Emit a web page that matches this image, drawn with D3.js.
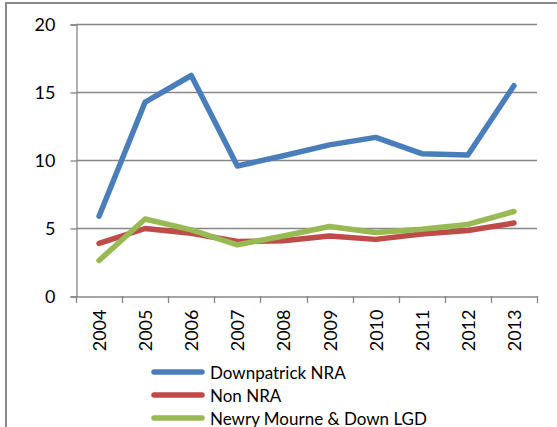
<!DOCTYPE html>
<html>
<head>
<meta charset="utf-8">
<script src="https://cdn.jsdelivr.net/npm/d3@7"></script>
<style>
  html, body { margin: 0; padding: 0; background: #fff; }
  svg { display: block; }
  text { font-family: Lato, "Open Sans", sans-serif; fill: #000; }
</style>
</head>
<body>
<svg id="chart" width="557" height="427"></svg>
<script>
const years = ["2004","2005","2006","2007","2008","2009","2010","2011","2012","2013"];
const downpatrickNRA = [5.9, 14.3, 16.25, 9.6, 10.35, 11.15, 11.7, 10.5, 10.4, 15.5];
const nonNRA = [3.9, 5.0, 4.65, 4.05, 4.1, 4.45, 4.2, 4.6, 4.85, 5.4];
const newryMourneDown = [2.65, 5.7, 4.9, 3.8, 4.45, 5.15, 4.7, 4.95, 5.3, 6.25];
const seriesNames = ["Downpatrick NRA", "Non NRA", "Newry Mourne & Down LGD"];
const yTicks = [0, 5, 10, 15, 20];

const series = [
  { name: seriesNames[0], values: downpatrickNRA, color: "#4A7EBB" },
  { name: seriesNames[1], values: nonNRA, color: "#BE4B48" },
  { name: seriesNames[2], values: newryMourneDown, color: "#98B954" }
];

const svg = d3.select("#chart");
const gridColor = "#878787";

// outer border (right/bottom extend beyond view)
svg.append("rect")
  .attr("x", 6).attr("y", 3)
  .attr("width", 552).attr("height", 440)
  .attr("fill", "none").attr("stroke", "#8a8a8a").attr("stroke-width", 2);

const plot = { left: 76, right: 537, top: 24, bottom: 296 };

const x = d3.scaleBand().domain(years).range([plot.left, plot.right]).padding(0);
const y = d3.scaleLinear().domain([0, 20]).range([plot.bottom, plot.top]);

// gridlines
svg.append("g").selectAll("line").data(yTicks.filter(d => d > 0)).join("line")
  .attr("x1", plot.left).attr("x2", plot.right)
  .attr("y1", d => y(d) + 0.5).attr("y2", d => y(d) + 0.5)
  .attr("stroke", gridColor).attr("stroke-width", 1.3);

// y axis
const yAxis = d3.axisLeft(y).tickValues(yTicks).tickSize(6).tickPadding(15);
const gy = svg.append("g").attr("transform", `translate(${plot.left + 0.5},0.5)`).call(yAxis);
gy.select(".domain").attr("stroke", gridColor).attr("stroke-width", 1.3);
gy.selectAll(".tick line").attr("stroke", gridColor).attr("stroke-width", 1.3);
gy.selectAll(".tick text").attr("font-size", "18px").attr("font-family", "Lato, sans-serif").attr("fill", "#000");

// x axis
const xAxis = d3.axisBottom(x).tickSize(0).tickFormat(d => d);
const gx = svg.append("g").attr("transform", `translate(0,${plot.bottom + 0.5})`).call(xAxis);
gx.select(".domain").attr("stroke", gridColor).attr("stroke-width", 1.3);
gx.selectAll(".tick text")
  .attr("font-size", "18px").attr("font-family", "Lato, sans-serif").attr("fill", "#000")
  .attr("text-anchor", "end")
  .attr("dy", null).attr("y", 0)
  .attr("transform", "translate(0,13) rotate(-90)")
  .attr("dominant-baseline", "central");
// boundary tick marks
const bounds = years.map(d => x(d)).concat([plot.right]);
svg.append("g").selectAll("line").data(bounds).join("line")
  .attr("x1", d => Math.round(d) + 0.5).attr("x2", d => Math.round(d) + 0.5)
  .attr("y1", plot.bottom).attr("y2", plot.bottom + 7)
  .attr("stroke", gridColor).attr("stroke-width", 1.3);

// lines
const line = d3.line()
  .x((d, i) => x(years[i]) + x.bandwidth() / 2)
  .y(d => y(d) + 0.5);

svg.append("g").selectAll("path").data(series).join("path")
  .attr("d", d => line(d.values))
  .attr("fill", "none")
  .attr("stroke", d => d.color)
  .attr("stroke-width", 5.5)
  .attr("stroke-linejoin", "round")
  .attr("stroke-linecap", "round");

// legend
const lg = svg.append("g");
const rowY = [372, 395, 418];
series.forEach((s, i) => {
  lg.append("line")
    .attr("x1", 154).attr("x2", 202)
    .attr("y1", rowY[i]).attr("y2", rowY[i])
    .attr("stroke", s.color).attr("stroke-width", 5.5).attr("stroke-linecap", "round");
  lg.append("text")
    .attr("x", 210).attr("y", rowY[i])
    .attr("dominant-baseline", "central")
    .attr("font-size", "17px")
    .text(s.name);
});
</script>
</body>
</html>
